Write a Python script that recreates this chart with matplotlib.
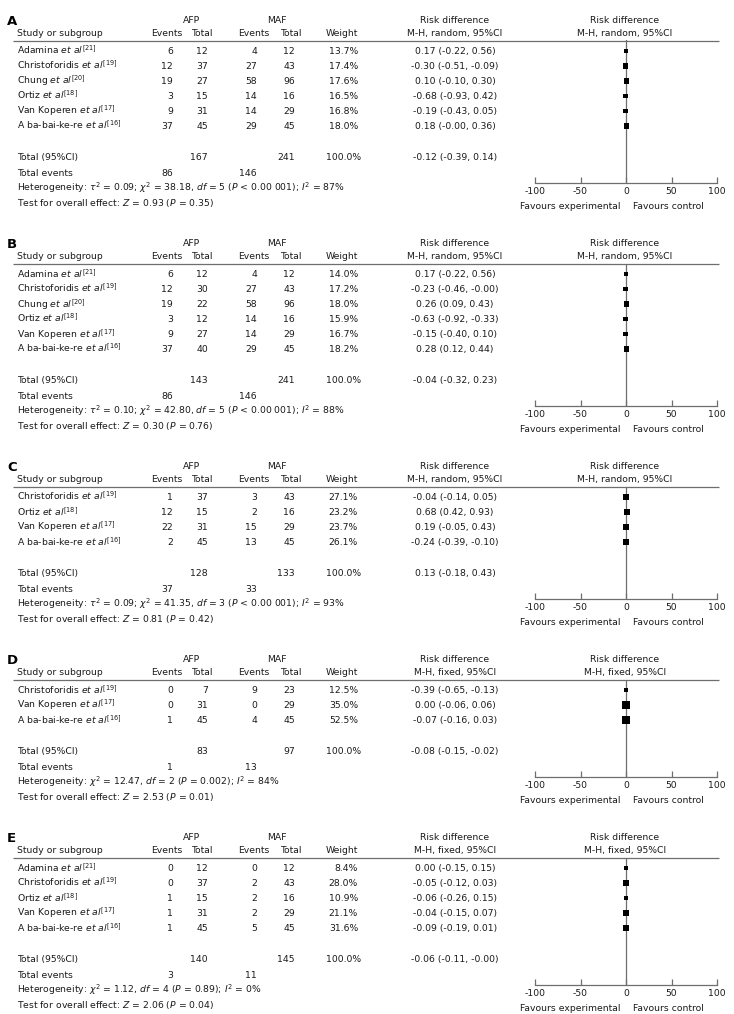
import matplotlib
matplotlib.use("Agg")
import matplotlib.pyplot as plt
import numpy as np

plt.rcParams['font.family'] = 'DejaVu Sans'
plt.rcParams['mathtext.fontset'] = 'dejavusans'
plt.rcParams['axes.unicode_minus'] = False

W, H = 734, 1014
FS = 6.7
TXT = '#1a1a1a'
LINE = '#6e6e6e'

## Data
panel_labels = ['A', 'B', 'C', 'D', 'E']
methods = ['random', 'random', 'random', 'fixed', 'fixed']

# A
studies_a = ['Adamina', 'Christoforidis', 'Chung', 'Ortiz', 'Van Koperen', 'A ba-bai-ke-re']
refs_a = [21, 19, 20, 18, 17, 16]
afp_events_a = [6, 12, 19, 3, 9, 37]
afp_total_a = [12, 37, 27, 15, 31, 45]
maf_events_a = [4, 27, 58, 14, 14, 29]
maf_total_a = [12, 43, 96, 16, 29, 45]
weight_a = [13.7, 17.4, 17.6, 16.5, 16.8, 18.0]
rd_a = [0.17, -0.30, 0.10, -0.68, -0.19, 0.18]
lo_a = [-0.22, -0.51, -0.10, -0.93, -0.43, -0.00]
hi_a = [0.56, -0.09, 0.30, 0.42, 0.05, 0.36]

# B
studies_b = ['Adamina', 'Christoforidis', 'Chung', 'Ortiz', 'Van Koperen', 'A ba-bai-ke-re']
refs_b = [21, 19, 20, 18, 17, 16]
afp_events_b = [6, 12, 19, 3, 9, 37]
afp_total_b = [12, 30, 22, 12, 27, 40]
maf_events_b = [4, 27, 58, 14, 14, 29]
maf_total_b = [12, 43, 96, 16, 29, 45]
weight_b = [14.0, 17.2, 18.0, 15.9, 16.7, 18.2]
rd_b = [0.17, -0.23, 0.26, -0.63, -0.15, 0.28]
lo_b = [-0.22, -0.46, 0.09, -0.92, -0.40, 0.12]
hi_b = [0.56, -0.00, 0.43, -0.33, 0.10, 0.44]

# C
studies_c = ['Christoforidis', 'Ortiz', 'Van Koperen', 'A ba-bai-ke-re']
refs_c = [19, 18, 17, 16]
afp_events_c = [1, 12, 22, 2]
afp_total_c = [37, 15, 31, 45]
maf_events_c = [3, 2, 15, 13]
maf_total_c = [43, 16, 29, 45]
weight_c = [27.1, 23.2, 23.7, 26.1]
rd_c = [-0.04, 0.68, 0.19, -0.24]
lo_c = [-0.14, 0.42, -0.05, -0.39]
hi_c = [0.05, 0.93, 0.43, -0.10]

# D
studies_d = ['Christoforidis', 'Van Koperen', 'A ba-bai-ke-re']
refs_d = [19, 17, 16]
afp_events_d = [0, 0, 1]
afp_total_d = [7, 31, 45]
maf_events_d = [9, 0, 4]
maf_total_d = [23, 29, 45]
weight_d = [12.5, 35.0, 52.5]
rd_d = [-0.39, 0.00, -0.07]
lo_d = [-0.65, -0.06, -0.16]
hi_d = [-0.13, 0.06, 0.03]

# E
studies_e = ['Adamina', 'Christoforidis', 'Ortiz', 'Van Koperen', 'A ba-bai-ke-re']
refs_e = [21, 19, 18, 17, 16]
afp_events_e = [0, 0, 1, 1, 1]
afp_total_e = [12, 37, 15, 31, 45]
maf_events_e = [0, 2, 2, 2, 5]
maf_total_e = [12, 43, 16, 29, 45]
weight_e = [8.4, 28.0, 10.9, 21.1, 31.6]
rd_e = [0.00, -0.05, -0.06, -0.04, -0.09]
lo_e = [-0.15, -0.12, -0.26, -0.15, -0.19]
hi_e = [0.15, 0.03, 0.15, 0.07, 0.01]

# pooled results
tot_afp = [167, 143, 128, 83, 140]
tot_maf = [241, 241, 133, 97, 145]
tot_ev_afp = [86, 86, 37, 1, 3]
tot_ev_maf = [146, 146, 33, 13, 11]
tot_rd = [-0.12, -0.04, 0.13, -0.08, -0.06]
tot_lo = [-0.39, -0.32, -0.18, -0.15, -0.11]
tot_hi = [0.14, 0.23, 0.43, -0.02, -0.00]
tau2 = [0.09, 0.10, 0.09, None, None]
chi2 = [38.18, 42.80, 41.35, 12.47, 1.12]
dfs = [5, 5, 3, 2, 4]
het_p = ['< 0.00 001', '< 0.00 001', '< 0.00 001', '= 0.002', '= 0.89']
i2 = [87, 88, 93, 84, 0]
z_val = [0.93, 0.30, 0.81, 2.53, 2.06]
z_p = [0.35, 0.76, 0.42, 0.01, 0.04]

panels = [
    (studies_a, refs_a, afp_events_a, afp_total_a, maf_events_a, maf_total_a, weight_a, rd_a, lo_a, hi_a),
    (studies_b, refs_b, afp_events_b, afp_total_b, maf_events_b, maf_total_b, weight_b, rd_b, lo_b, hi_b),
    (studies_c, refs_c, afp_events_c, afp_total_c, maf_events_c, maf_total_c, weight_c, rd_c, lo_c, hi_c),
    (studies_d, refs_d, afp_events_d, afp_total_d, maf_events_d, maf_total_d, weight_d, rd_d, lo_d, hi_d),
    (studies_e, refs_e, afp_events_e, afp_total_e, maf_events_e, maf_total_e, weight_e, rd_e, lo_e, hi_e),
]

fig = plt.figure(figsize=(W / 100, H / 100), dpi=100)
ax = fig.add_axes([0, 0, 1, 1])
ax.set_xlim(0, W)
ax.set_ylim(H, 0)
ax.axis('off')

BASE = 3.4  # baseline offset below the visual centre of a line


def txt(x, y, s, ha='left', **kw):
    ax.text(x, y + BASE, s, ha=ha, va='baseline', fontsize=FS, color=TXT, **kw)


def rd_str(r, l, h):
    return '%.2f (%.2f, %.2f)' % (r, l, h)


# column positions (pixels)
X_NAME, X_AFP_EV, X_AFP_TOT, X_MAF_EV, X_MAF_TOT, X_W, X_RD = 17, 173, 208, 257, 295, 358, 455
X_PLOT0, X_PLOT1, X_ZERO = 535, 717, 626

L = 21
for k, (names, refs, ae, at, me, mt, wt, rd, lo, hi) in enumerate(panels):
    n = len(names)
    line_y = L + 19.5
    rows = L + 30 + 15 * np.arange(n)
    total_y = rows[-1] + 31
    axis_y = line_y + 52 + 15 * n

    # headers
    ax.text(7, L + 4, panel_labels[k], fontsize=9.5, fontweight='bold', color='black', va='baseline')
    txt(192, L - 1, 'AFP', ha='center')
    txt(277, L - 1, 'MAF', ha='center')
    txt(X_NAME, L + 12, 'Study or subgroup')
    txt(167, L + 12, 'Events', ha='center')
    txt(202, L + 12, 'Total', ha='center')
    txt(254, L + 12, 'Events', ha='center')
    txt(291, L + 12, 'Total', ha='center')
    txt(X_W, L + 12, 'Weight', ha='right')
    sub = 'M-H, %s, 95%%CI' % methods[k]
    txt(X_RD, L - 1, 'Risk difference', ha='center')
    txt(X_RD, L + 12, sub, ha='center')
    txt(X_ZERO - 1, L - 1, 'Risk difference', ha='center')
    txt(X_ZERO - 1, L + 12, sub, ha='center')
    ax.plot([13, 719], [line_y, line_y], color=LINE, lw=0.9, solid_capstyle='butt')

    # study rows
    for i in range(n):
        y = rows[i]
        txt(X_NAME, y, r'%s $\mathit{et\ al}^{[%d]}$' % (names[i], refs[i]))
        txt(X_AFP_EV, y, str(ae[i]), ha='right')
        txt(X_AFP_TOT, y, str(at[i]), ha='right')
        txt(X_MAF_EV, y, str(me[i]), ha='right')
        txt(X_MAF_TOT, y, str(mt[i]), ha='right')
        txt(X_W, y, '%.1f%%' % wt[i], ha='right')
        txt(X_RD, y, rd_str(rd[i], lo[i], hi[i]), ha='center')

    # totals
    txt(X_NAME, total_y, 'Total (95%CI)')
    txt(X_AFP_TOT, total_y, str(tot_afp[k]), ha='right')
    txt(X_MAF_TOT, total_y, str(tot_maf[k]), ha='right')
    txt(X_W + 3, total_y, '100.0%', ha='right')
    txt(X_RD, total_y, rd_str(tot_rd[k], tot_lo[k], tot_hi[k]), ha='center')
    txt(X_NAME, total_y + 15.5, 'Total events')
    txt(X_AFP_EV, total_y + 15.5, str(tot_ev_afp[k]), ha='right')
    txt(X_MAF_EV, total_y + 15.5, str(tot_ev_maf[k]), ha='right')
    het = 'Heterogeneity: '
    if tau2[k] is not None:
        het += r'$\tau^2$ = %.2f; ' % tau2[k]
    het += r'$\chi^2$ = %.2f, $df$ = %d ($P$ %s); $I^2$ = %d%%' % (chi2[k], dfs[k], het_p[k], i2[k])
    txt(X_NAME, total_y + 30.5, het)
    txt(X_NAME, total_y + 46, r'Test for overall effect: $Z$ = %.2f ($P$ = %.2f)' % (z_val[k], z_p[k]))

    # forest plot
    axf = fig.add_axes([X_PLOT0 / W, 1 - axis_y / H, (X_PLOT1 - X_PLOT0) / W, (axis_y - line_y) / H])
    axf.patch.set_alpha(0)
    axf.set_xlim(-100, 100)
    axf.set_ylim(axis_y, line_y)
    for s in ['top', 'left', 'right']:
        axf.spines[s].set_visible(False)
    axf.spines['bottom'].set_color(LINE)
    axf.spines['bottom'].set_linewidth(0.9)
    axf.set_yticks([])
    axf.set_xticks([-100, -50, 0, 50, 100])
    axf.tick_params(axis='x', direction='in', length=4, width=0.9, color=LINE,
                    labelsize=FS, labelcolor=TXT, pad=3)
    axf.axvline(0, color=LINE, lw=0.9)
    axf.hlines(rows, lo, hi, color='black', lw=0.8)
    side = 1.2 * np.sqrt(np.array(wt)) * 0.72
    axf.scatter(rd, rows, marker='s', s=side ** 2, c='black', linewidths=0, zorder=3)

    txt(X_ZERO - 6, axis_y + 23, 'Favours experimental', ha='right')
    txt(X_ZERO + 7, axis_y + 23, 'Favours control', ha='left')

    L = L + 133 + 15 * n

fig.savefig('out.png', dpi=100)
